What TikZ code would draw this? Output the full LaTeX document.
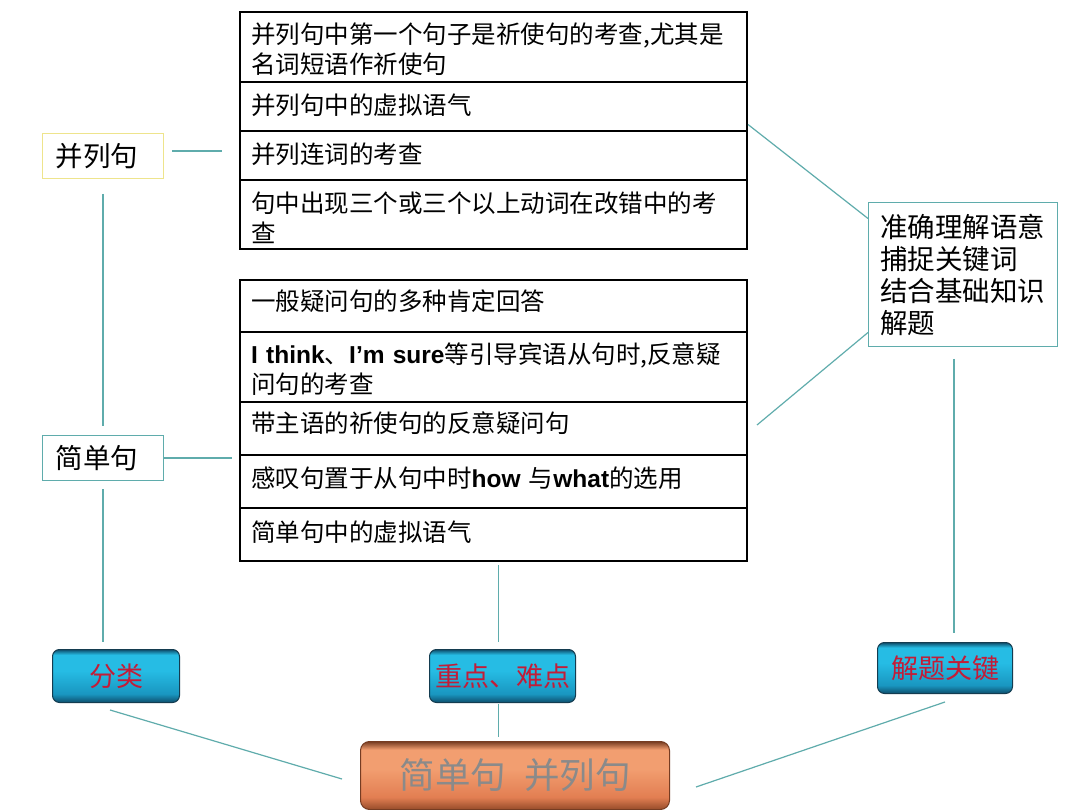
\documentclass[tikz,border=0pt]{standalone}
\usepackage{fontspec}
\setmainfont{Noto Sans CJK SC}
\newfontfamily\latb{Liberation Sans}
\definecolor{conn}{RGB}{95,172,172}
\definecolor{ylw}{RGB}{238,228,140}
\definecolor{bL}{RGB}{38,188,228}
\definecolor{bM}{RGB}{25,150,192}
\definecolor{bD}{RGB}{14,78,108}
\definecolor{bEdge}{RGB}{20,60,80}
\definecolor{btxt}{RGB}{195,28,55}
\definecolor{sL}{RGB}{242,158,112}
\definecolor{sM}{RGB}{226,126,82}
\definecolor{sD}{RGB}{150,76,42}
\definecolor{sT}{RGB}{118,60,34}
\definecolor{stxt}{RGB}{138,138,138}
\pgfdeclareverticalshading{btnshade}{100bp}{color(0bp)=(bD); color(25bp)=(bD); color(33bp)=(bM); color(55bp)=(bL); color(70bp)=(bL); color(75bp)=(bD); color(100bp)=(bD)}
\pgfdeclareverticalshading{salshade}{100bp}{color(0bp)=(sD); color(25bp)=(sD); color(34bp)=(sM); color(55bp)=(sL); color(69bp)=(sL); color(75bp)=(sT); color(100bp)=(sT)}
\begin{document}
\begin{tikzpicture}[x=1pt,y=-1pt,
  rowbox/.style={draw=black, line width=1.8pt, anchor=north west, minimum width=507pt, inner sep=0pt, outer sep=0pt},
  rowtxt/.style={anchor=base west, inner sep=0pt, text width=495pt, align=left, font=\fontsize{24.5}{30}\selectfont},
  conn/.style={draw=conn, line width=1.2pt},
  sidebox/.style={anchor=north west, line width=1pt, inner xsep=13pt, inner ysep=0pt, align=left, font=\fontsize{27.5}{32}\selectfont},
  btn/.style={anchor=north west, rounded corners=7pt, draw=bEdge, line width=1pt, shading=btnshade, text=btxt, inner sep=0pt, font=\fontsize{27}{30}\selectfont},
  root/.style={anchor=north west, rounded corners=9pt, draw=sT, line width=1pt, shading=salshade, text=stxt, inner sep=0pt, font=\fontsize{35.5}{38}\selectfont}
]
\useasboundingbox (0,0) rectangle (1080,810);
\fill[white] (0,0) rectangle (1080,810);

% table 1
\node[rowbox, minimum height=70pt] (a1) at (240,12) {};
\node[rowbox, minimum height=49pt] (a2) at (240,82) {};
\node[rowbox, minimum height=49pt] (a3) at (240,131) {};
\node[rowbox, minimum height=69pt] (a4) at (240,180) {};
\node[rowtxt] (a1t) at ([shift={(11,32)}]a1.north west) {并列句中第一个句子是祈使句的考查,尤其是\\名词短语作祈使句};
\node[rowtxt] (a2t) at ([shift={(11,33)}]a2.north west) {并列句中的虚拟语气};
\node[rowtxt] (a3t) at ([shift={(11,33)}]a3.north west) {并列连词的考查};
\node[rowtxt] (a4t) at ([shift={(11,33)}]a4.north west) {句中出现三个或三个以上动词在改错中的考\\查};

% table 2
\node[rowbox, minimum height=52pt] (b1) at (240,280) {};
\node[rowbox, minimum height=70pt] (b2) at (240,332) {};
\node[rowbox, minimum height=53pt] (b3) at (240,402) {};
\node[rowbox, minimum height=53pt] (b4) at (240,455) {};
\node[rowbox, minimum height=53pt] (b5) at (240,508) {};
\node[rowtxt] (b1t) at ([shift={(11,31)}]b1.north west) {一般疑问句的多种肯定回答};
\node[rowtxt] (b2t) at ([shift={(11,32)}]b2.north west) {{\latb\bfseries I think}、{\latb\bfseries I’m sure}等引导宾语从句时,反意疑\\问句的考查};
\node[rowtxt] (b3t) at ([shift={(11,31)}]b3.north west) {带主语的祈使句的反意疑问句};
\node[rowtxt] (b4t) at ([shift={(11,33)}]b4.north west) {感叹句置于从句中时{\latb\bfseries how }与{\latb\bfseries what}的选用};
\node[rowtxt] (b5t) at ([shift={(11,33)}]b5.north west) {简单句中的虚拟语气};

% side boxes
\node[sidebox, draw=ylw, minimum width=121pt, minimum height=45pt, text width=95pt] (bl) at (42,133) {并列句};
\node[sidebox, draw=conn, minimum width=121pt, minimum height=45pt, text width=95pt] (jd) at (42,435) {简单句};
\node[sidebox, draw=conn, minimum width=189pt, minimum height=144pt, text width=166pt, inner xsep=11pt] (key) at (868,202) {准确理解语意\\捕捉关键词\\结合基础知识\\解题};

% buttons
\node[btn, minimum width=127pt, minimum height=53pt] (fl) at (52,649) {分类};
\node[btn, minimum width=146pt, minimum height=53pt] (zd) at (429,649) {重点、难点};
\node[btn, minimum width=135pt, minimum height=51pt] (jt) at (877,642) {解题关键};
\node[root, minimum width=309pt, minimum height=68pt] (rt) at (360,741) {简单句\hspace{18pt}并列句};

% connectors
\coordinate (c1a) at (172,151); \coordinate (c1b) at (222,151);
\draw[conn] (c1a) -- (c1b);
\draw[conn] ([yshift=-15pt]bl.south) -- ([yshift=9pt]jd.north);
\draw[conn] (jd.east) -- ([xshift=-8pt]jd.east -| b3.west);
\draw[conn] ([yshift=-8pt]jd.south) -- ([yshift=7pt]fl.north -| jd.south);
\draw[conn] ([shift={(-4,4)}]b5.south -| zd.north) -- ([shift={(-4,-7)}]zd.north);
\draw[conn] ([shift={(1,-6.5)}]a2.south east) -- ([yshift=56pt]key.west);
\coordinate (c7) at (757,425);
\draw[conn] (c7) -- ([yshift=-58pt]key.west);
\draw[conn] ([yshift=-12pt]key.south -| 954,0) -- ([yshift=9pt]jt.north -| 954,0);
\coordinate (c9a) at (110,710); \coordinate (c9b) at (342,779);
\draw[conn] (c9a) -- (c9b);
\draw[conn] ([shift={(-4,1)}]zd.south) -- ([shift={(-4,-4)}]rt.north -| zd.south);
\coordinate (c11a) at (945,702); \coordinate (c11b) at (696,787);
\draw[conn] (c11a) -- (c11b);
\end{tikzpicture}
\end{document}
